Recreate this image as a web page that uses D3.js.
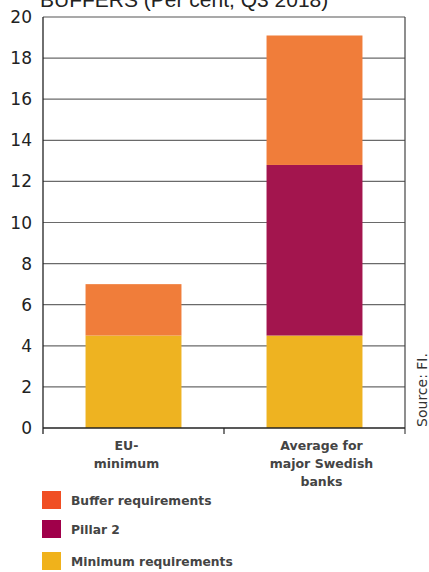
<!DOCTYPE html>
<html><head><meta charset="utf-8">
<script src="https://cdn.jsdelivr.net/npm/d3@7"></script>
<style>body{margin:0;background:#fff}svg{display:block}</style>
</head><body>
<svg id="c" width="429" height="572"></svg>
<script>
const categories = ["EU-\nminimum", "Average for\nmajor Swedish\nbanks"];
const seriesNames = ["Minimum requirements", "Pillar 2", "Buffer requirements"];
const minimumReq = [4.5, 4.5];
const pillar2 = [0, 8.3];
const bufferReq = [2.5, 6.3];
const yTicks = [0, 2, 4, 6, 8, 10, 12, 14, 16, 18, 20];
const barColors = ["#EEB321", "#A3154E", "#F07D3A"];
const legendColors = ["#F04E23", "#A0004A", "#F0B21B"];
const legendNames = ["Buffer requirements", "Pillar 2", "Minimum requirements"];

const svg = d3.select("#c");
const L = 43, R = 405, T = 17, B = 428;
const x = d3.scaleBand().domain(categories).range([L, R]).paddingInner(0.47).paddingOuter(0.235);
const xb = d3.scaleBand().domain(categories).range([L, R]);
const y = d3.scaleLinear().domain([0, 20]).range([B, T]);
const labelShift = [-7, 7];

// title (cut off at top, as in the reference)
svg.append("text").attr("x", 40).attr("y", 7).attr("font-family", "Liberation Sans, Arial, sans-serif")
  .attr("font-size", 21).attr("fill", "#222").text("BUFFERS (Per cent, Q3 2018)");

// gridlines
svg.append("g").selectAll("line").data(yTicks.filter(d => d > 0 && d < 20)).join("line")
  .attr("x1", L).attr("x2", R).attr("y1", d => y(d)).attr("y2", d => y(d))
  .attr("stroke", "#6a6a6a").attr("stroke-width", 1.2);

// stacked bars
const rows = categories.map((c, i) => ({cat: c, "Minimum requirements": minimumReq[i], "Pillar 2": pillar2[i], "Buffer requirements": bufferReq[i]}));
const stack = d3.stack().keys(seriesNames)(rows);
svg.append("g").selectAll("g").data(stack).join("g").attr("fill", (d, i) => barColors[i])
  .selectAll("rect").data(d => d).join("rect")
  .attr("x", d => x(d.data.cat)).attr("width", x.bandwidth())
  .attr("y", d => y(d[1])).attr("height", d => Math.max(0, y(d[0]) - y(d[1])));

// frame
svg.append("line").attr("x1", L).attr("x2", R).attr("y1", T).attr("y2", T).attr("stroke", "#555").attr("stroke-width", 1.2);
svg.append("line").attr("x1", R).attr("x2", R).attr("y1", T).attr("y2", B + 6).attr("stroke", "#444").attr("stroke-width", 1.2);
svg.append("line").attr("x1", L).attr("x2", L).attr("y1", T).attr("y2", B + 6).attr("stroke", "#222").attr("stroke-width", 1.3);
svg.append("line").attr("x1", L).attr("x2", R).attr("y1", B).attr("y2", B).attr("stroke", "#222").attr("stroke-width", 1.3);
// category boundary ticks
svg.append("g").selectAll("line").data(categories.slice(1)).join("line")
  .attr("x1", d => xb(d)).attr("x2", d => xb(d)).attr("y1", B).attr("y2", B + 6)
  .attr("stroke", "#222").attr("stroke-width", 1.2);

// y labels
svg.append("g").selectAll("text").data(yTicks).join("text")
  .attr("x", 32).attr("y", d => y(d) + 6).attr("text-anchor", "end")
  .attr("font-family", "DejaVu Sans, sans-serif").attr("font-size", 17).attr("fill", "#222")
  .text(d => d);

// x labels
const xl = svg.append("g").selectAll("text").data(categories).join("text")
  .attr("text-anchor", "middle").attr("font-family", "DejaVu Sans, sans-serif")
  .attr("font-size", 12.5).attr("font-weight", "bold").attr("fill", "#444")
  .attr("transform", (d, i) => `translate(${x(d) + x.bandwidth() / 2 + labelShift[i]},${B + 22})`);
xl.selectAll("tspan").data(d => d.split("\n")).join("tspan")
  .attr("x", 0).attr("dy", (d, i) => i === 0 ? 0 : 18).text(d => d);

// legend
const lg = svg.append("g").selectAll("g").data(legendNames).join("g")
  .attr("transform", (d, i) => `translate(42,${[491, 520, 552][i]})`);
lg.append("rect").attr("width", 19).attr("height", 18).attr("fill", (d, i) => legendColors[i]);
lg.append("text").attr("x", 29).attr("y", 14).attr("font-family", "DejaVu Sans, sans-serif")
  .attr("font-size", 12.3).attr("font-weight", "bold").attr("fill", "#444").text(d => d);

// source
svg.append("text").attr("transform", "translate(427,390) rotate(-90)").attr("text-anchor", "middle")
  .attr("font-family", "DejaVu Sans, sans-serif").attr("font-size", 14)
  .attr("fill", "#333").text("Source: FI.");
</script>
</body></html>
